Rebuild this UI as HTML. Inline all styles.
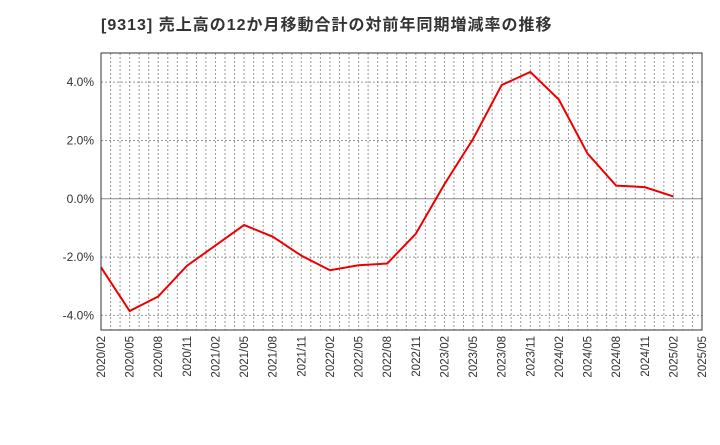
<!DOCTYPE html>
<html><head><meta charset="utf-8"><style>
body{margin:0;background:#fff;font-family:"Liberation Sans","Noto Sans CJK JP",sans-serif;}
</style></head><body>
<svg width="720" height="440" xmlns="http://www.w3.org/2000/svg">
<text x="101" y="30" font-size="16" letter-spacing="1" font-weight="bold" fill="#333" font-family="Liberation Sans, Noto Sans CJK JP, sans-serif">[9313]  売上高の12か月移動合計の対前年同期増減率の推移</text>
<g id="grid"></g>
<g id="axes"></g>
<polyline id="line" fill="none" stroke="#e00" stroke-width="2"/>
<rect x="101" y="53" width="601" height="277" fill="none" stroke="#333" stroke-width="1"/>
</svg>
<script>
const categories=["2020/02","2020/05","2020/08","2020/11","2021/02","2021/05","2021/08","2021/11","2022/02","2022/05","2022/08","2022/11","2023/02","2023/05","2023/08","2023/11","2024/02","2024/05","2024/08","2024/11","2025/02"];
const values=[-2.35,-3.85,-3.35,-2.3,-1.6,-0.9,-1.3,-1.95,-2.45,-2.28,-2.22,-1.2,0.5,2.05,3.9,4.35,3.4,1.55,0.45,0.4,0.08];
const xTickLabels=["2020/02","2020/05","2020/08","2020/11","2021/02","2021/05","2021/08","2021/11","2022/02","2022/05","2022/08","2022/11","2023/02","2023/05","2023/08","2023/11","2024/02","2024/05","2024/08","2024/11","2025/02","2025/05"];
const yTicks=[-4,-2,0,2,4];
const NS="http://www.w3.org/2000/svg";
const L=101,R=702,T=53,B=330,yMin=-4.5,yMax=5;
const nQ=xTickLabels.length-1;
const x=i=>L+(R-L)*i/nQ;
const y=v=>B-(v-yMin)/(yMax-yMin)*(B-T);
const grid=document.getElementById('grid'),axes=document.getElementById('axes');
function mk(t,a,p){const e=document.createElementNS(NS,t);for(const k in a)e.setAttribute(k,a[k]);p.appendChild(e);return e;}
for(let m=1;m<nQ*3;m++){const xx=L+(R-L)*m/(nQ*3);
const g=mk('line',{x1:xx,x2:xx,y1:T,y2:B,stroke:'#999','stroke-dasharray':'2,2','stroke-width':1},grid);

}
yTicks.forEach(v=>{const yy=y(v);
const g=mk('line',{x1:L,x2:R,y1:yy,y2:yy,stroke:v===0?'#888':'#999','stroke-dasharray':v===0?'':'2,2','stroke-width':1},grid);


const t=mk('text',{x:L-7,y:yy+4,'text-anchor':'end','font-size':12,fill:'#333'},axes);
t.textContent=v.toFixed(1)+'%';

});
xTickLabels.forEach((s,i)=>{const xx=x(i);
const t=mk('text',{x:0,y:0,transform:`translate(${xx+4},${B+6}) rotate(-90)`,'text-anchor':'end','font-size':11.5,fill:'#333'},axes);
t.textContent=s;

});
document.getElementById('line').setAttribute('points',values.map((v,i)=>x(i)+','+y(v)).join(' '));
</script>
</body></html>
